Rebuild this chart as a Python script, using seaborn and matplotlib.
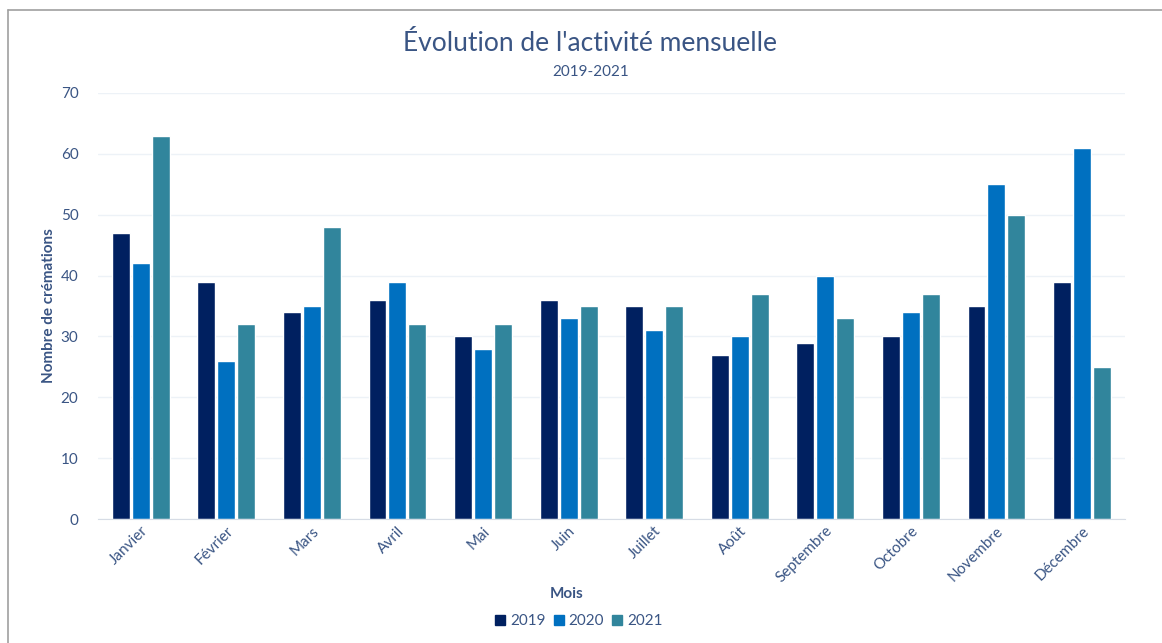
import pandas as pd
import matplotlib.pyplot as plt
import seaborn as sns
from matplotlib.lines import Line2D

# =====================================
# DATA
# =====================================

mois = ["Janvier", "Février", "Mars", "Avril", "Mai", "Juin",
        "Juillet", "Août", "Septembre", "Octobre", "Novembre", "Décembre"]
annees = ["2019", "2020", "2021"]

val_2019 = [47, 39, 34, 36, 30, 36, 35, 27, 29, 30, 35, 39]
val_2020 = [42, 26, 35, 39, 28, 33, 31, 30, 40, 34, 55, 61]
val_2021 = [63, 32, 48, 32, 32, 35, 35, 37, 33, 37, 50, 25]

couleurs = ["#002060", "#0070C0", "#31859C"]
texte = "#3A5584"

df = pd.DataFrame({
    "Mois": mois * 3,
    "Année": [a for a in annees for _ in mois],
    "Valeur": val_2019 + val_2020 + val_2021,
})

# =====================================
# PLOT
# =====================================

sns.set_style("white")
plt.rcParams["font.family"] = ["Lato", "DejaVu Sans"]

fig = plt.figure(figsize=(11.62, 6.43), dpi=100)
ax = fig.add_axes([0.0843, 0.1928, 0.8837, 0.6626])

sns.barplot(
    data=df, x="Mois", y="Valeur", hue="Année",
    palette=couleurs, saturation=1, width=0.7, gap=0.1,
    order=mois, hue_order=annees, ax=ax, legend=False,
)

ax.set_ylim(0, 70)
ax.set_yticks(range(0, 71, 10))
ax.set_xlim(-0.5, len(mois) - 0.5)
ax.grid(axis="y", color="#EDF2F7", linewidth=1)
ax.set_axisbelow(True)

for s in ["top", "right", "left"]:
    ax.spines[s].set_visible(False)
ax.spines["bottom"].set_color("#D6DCE5")

ax.tick_params(axis="both", length=0, labelcolor=texte, labelsize=11)
ax.tick_params(axis="y", pad=14)
plt.setp(ax.get_xticklabels(), rotation=45, ha="right", rotation_mode="anchor")

ax.set_xlabel("Mois", color=texte, fontsize=11, fontweight="bold")
ax.xaxis.set_label_coords(0.456, -0.16)
ax.set_ylabel("Nombre de crémations", color=texte, fontsize=11,
              fontweight="bold")
ax.yaxis.set_label_coords(-0.041, 0.5)

fig.text(0.508, 0.933, "Évolution de l'activité mensuelle", ha="center",
         va="center", fontsize=19, color=texte)
fig.text(0.508, 0.888, "2019-2021", ha="center", va="center",
         fontsize=11, color=texte)

handles = [Line2D([], [], marker="s", linestyle="", markersize=7, color=c)
           for c in couleurs]
fig.legend(handles, annees, loc="center", bbox_to_anchor=(0.498, 0.034),
           ncol=3, frameon=False, fontsize=11, labelcolor=texte,
           handlelength=0.7, handletextpad=0.3, columnspacing=0.5)

# cadre gris (haut et gauche)
fig.add_artist(Line2D([0.0069, 1], [0.984, 0.984], color="#A0A0A0", lw=1.2))
fig.add_artist(Line2D([0.0069, 0.0069], [0, 0.984], color="#A0A0A0", lw=1.2))

plt.savefig("out.png", dpi=100)
